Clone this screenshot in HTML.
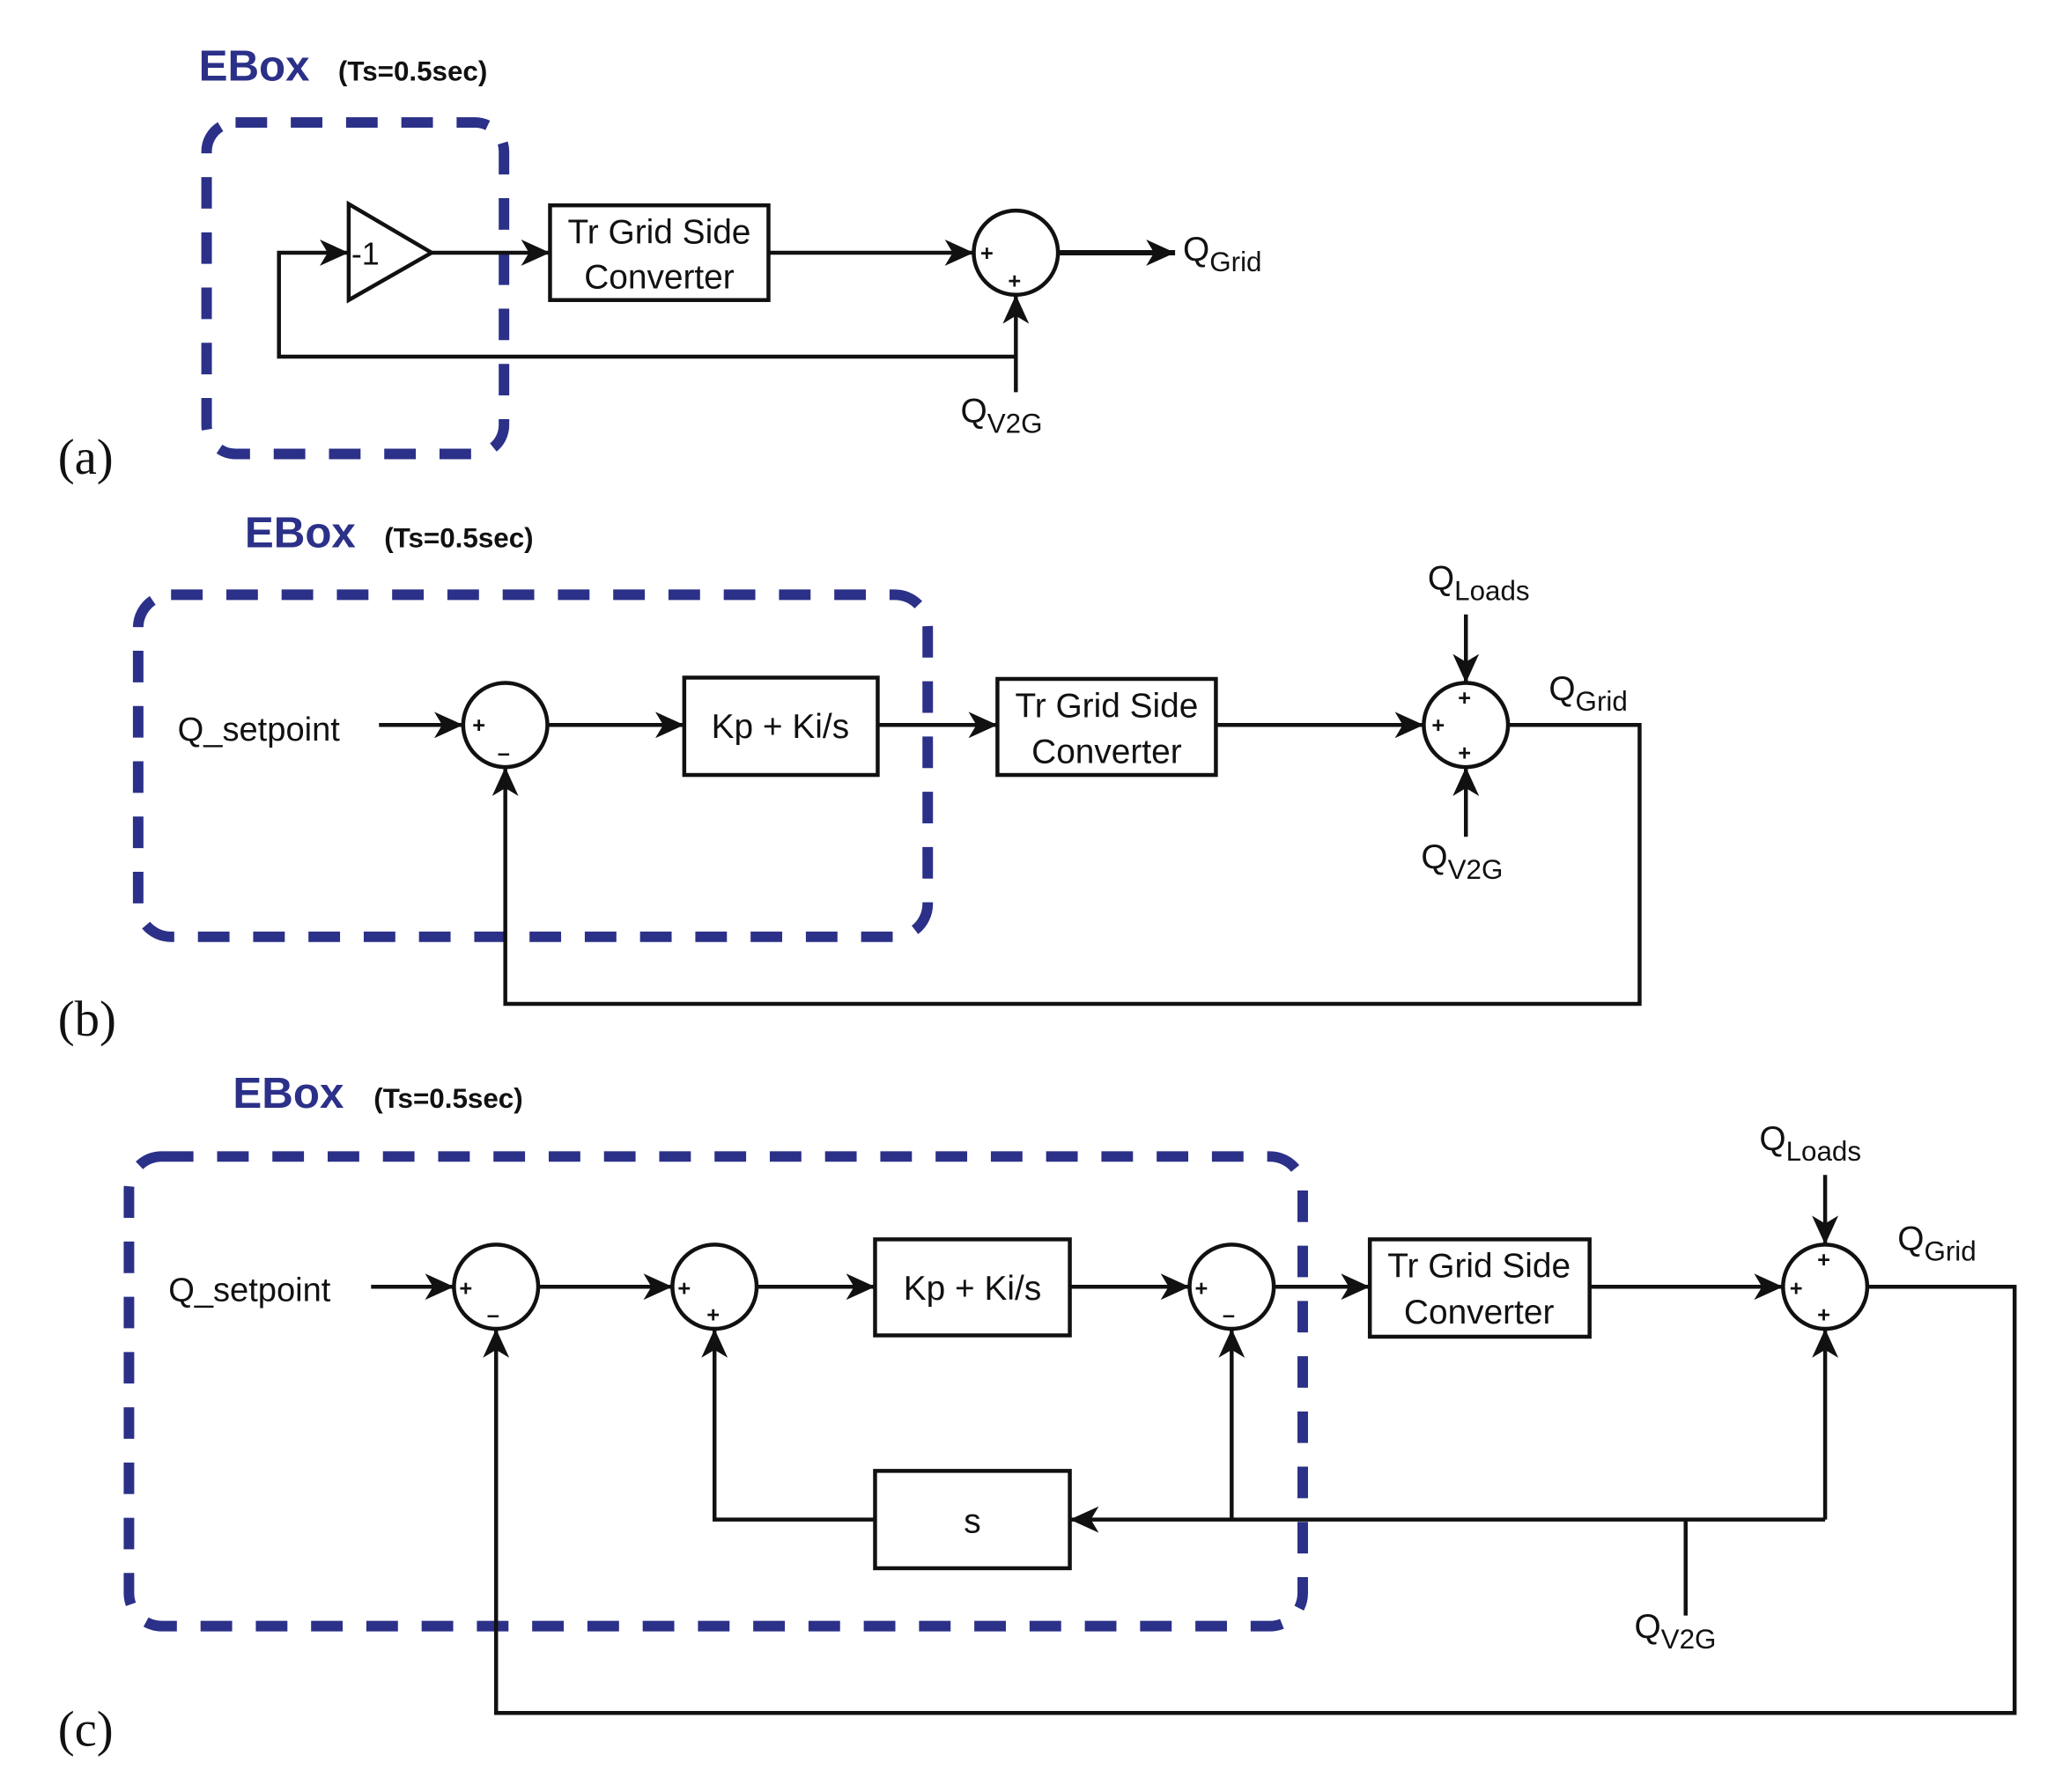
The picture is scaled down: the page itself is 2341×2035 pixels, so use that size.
<!DOCTYPE html>
<html><head><meta charset="utf-8"><style>
html,body{margin:0;padding:0;background:#fff;}
svg{display:block;}
text{font-family:"Liberation Sans",sans-serif;fill:#111;}
.eb{fill:#2b3088;font-weight:bold;font-size:33px;}
.ts{font-weight:bold;font-size:21px;}
.lab{font-size:26px;}
.sub{font-size:21px;}
.pl{font-family:"Liberation Serif",serif;font-size:38px;}
.sg{font-size:17px;font-weight:bold;}
</style></head><body>
<svg width="2341" height="2035" viewBox="0 0 1567 1362" xmlns="http://www.w3.org/2000/svg">
<defs>
<marker id="a" markerUnits="userSpaceOnUse" markerWidth="24" markerHeight="20" refX="22" refY="10" orient="auto">
<path d="M0,0 L22,10 L0,20 L6,10 Z" fill="#111"/>
</marker>
</defs>
<g fill="none" stroke="#2b3088" stroke-width="8" stroke-dasharray="24,18">
<rect x="157" y="93" width="226" height="252" rx="22"/>
<rect x="105" y="452" width="600" height="260" rx="25"/>
<rect x="98" y="879" width="892" height="357" rx="25"/>
</g>
<g stroke="#111" stroke-width="3" fill="none">
<polygon points="265,155 265,228 328,192" fill="#fff"/>
<polyline points="772,271 212,271 212,192 265,192" marker-end="url(#a)"/>
<line x1="328" y1="192" x2="418" y2="192" marker-end="url(#a)"/>
<rect x="418" y="156" width="166" height="72"/>
<line x1="584" y1="192" x2="740" y2="192" marker-end="url(#a)"/>
<circle cx="772" cy="192" r="32"/>
<line x1="804" y1="192" x2="893" y2="192" stroke-width="4" marker-end="url(#a)"/>
<line x1="772" y1="298" x2="772" y2="224" marker-end="url(#a)"/>
<line x1="288" y1="551" x2="352" y2="551" marker-end="url(#a)"/>
<circle cx="384" cy="551" r="32"/>
<line x1="416" y1="551" x2="520" y2="551" marker-end="url(#a)"/>
<rect x="520" y="515" width="147" height="74"/>
<line x1="667" y1="551" x2="758" y2="551" marker-end="url(#a)"/>
<rect x="758" y="516" width="166" height="73"/>
<line x1="924" y1="551" x2="1082" y2="551" marker-end="url(#a)"/>
<circle cx="1114" cy="551" r="32"/>
<line x1="1114" y1="467" x2="1114" y2="519" marker-end="url(#a)"/>
<line x1="1114" y1="636" x2="1114" y2="583" marker-end="url(#a)"/>
<polyline points="1146,551 1246,551 1246,763 384,763 384,583" marker-end="url(#a)"/>
<line x1="282" y1="978" x2="345" y2="978" marker-end="url(#a)"/>
<circle cx="377" cy="978" r="32"/>
<line x1="409" y1="978" x2="511" y2="978" marker-end="url(#a)"/>
<circle cx="543" cy="978" r="32"/>
<line x1="575" y1="978" x2="665" y2="978" marker-end="url(#a)"/>
<rect x="665" y="942" width="148" height="73"/>
<line x1="813" y1="978" x2="904" y2="978" marker-end="url(#a)"/>
<circle cx="936" cy="978" r="32"/>
<line x1="968" y1="978" x2="1041" y2="978" marker-end="url(#a)"/>
<rect x="1041" y="942" width="167" height="74"/>
<line x1="1208" y1="978" x2="1355" y2="978" marker-end="url(#a)"/>
<circle cx="1387" cy="978" r="32"/>
<line x1="1387" y1="893" x2="1387" y2="946" marker-end="url(#a)"/>
<polyline points="1419,978 1531,978 1531,1302 377,1302 377,1010" marker-end="url(#a)"/>
<polyline points="1387,1155 813,1155" marker-end="url(#a)"/>
<rect x="665" y="1118" width="148" height="74"/>
<polyline points="665,1155 543,1155 543,1010" marker-end="url(#a)"/>
<line x1="936" y1="1155" x2="936" y2="1010" marker-end="url(#a)"/>
<line x1="1387" y1="1155" x2="1387" y2="1010" marker-end="url(#a)"/>
<line x1="1281" y1="1228" x2="1281" y2="1155"/>
</g>
<text class="eb" x="151" y="61">EBox</text>
<text class="ts" x="257" y="61">(Ts=0.5sec)</text>
<text class="lab" x="267" y="201" style="font-size:24px">-1</text>
<text class="lab" x="501" y="185" text-anchor="middle">Tr Grid Side</text>
<text class="lab" x="501" y="219" text-anchor="middle">Converter</text>
<text class="sg" x="745" y="198">+</text>
<text class="sg" x="766" y="219">+</text>
<text class="lab" x="899" y="198">Q<tspan class="sub" dy="8">Grid</tspan></text>
<text class="lab" x="730" y="321">Q<tspan class="sub" dy="8">V2G</tspan></text>
<text class="pl" x="44" y="360">(a)</text>
<text class="eb" x="186" y="416">EBox</text>
<text class="ts" x="292" y="416">(Ts=0.5sec)</text>
<text class="lab" x="135" y="563" style="font-size:25.5px">Q_setpoint</text>
<text class="sg" x="359" y="557">+</text>
<text class="sg" x="378" y="578">–</text>
<text class="lab" x="593" y="561" text-anchor="middle">Kp + Ki/s</text>
<text class="lab" x="841" y="545" text-anchor="middle">Tr Grid Side</text>
<text class="lab" x="841" y="580" text-anchor="middle">Converter</text>
<text class="sg" x="1108" y="536">+</text>
<text class="sg" x="1088" y="557">+</text>
<text class="sg" x="1108" y="578">+</text>
<text class="lab" x="1085" y="448">Q<tspan class="sub" dy="8">Loads</tspan></text>
<text class="lab" x="1177" y="532">Q<tspan class="sub" dy="8">Grid</tspan></text>
<text class="lab" x="1080" y="660">Q<tspan class="sub" dy="8">V2G</tspan></text>
<text class="pl" x="44" y="787">(b)</text>
<text class="eb" x="177" y="842">EBox</text>
<text class="ts" x="284" y="842">(Ts=0.5sec)</text>
<text class="lab" x="128" y="989" style="font-size:25.5px">Q_setpoint</text>
<text class="sg" x="349" y="985">+</text>
<text class="sg" x="370" y="1005">–</text>
<text class="sg" x="515" y="985">+</text>
<text class="sg" x="537" y="1005">+</text>
<text class="lab" x="739" y="988" text-anchor="middle">Kp + Ki/s</text>
<text class="sg" x="908" y="985">+</text>
<text class="sg" x="929" y="1005">–</text>
<text class="lab" x="1124" y="971" text-anchor="middle">Tr Grid Side</text>
<text class="lab" x="1124" y="1006" text-anchor="middle">Converter</text>
<text class="sg" x="1381" y="963">+</text>
<text class="sg" x="1360" y="985">+</text>
<text class="sg" x="1381" y="1005">+</text>
<text class="lab" x="739" y="1165" text-anchor="middle">s</text>
<text class="lab" x="1337" y="874">Q<tspan class="sub" dy="8">Loads</tspan></text>
<text class="lab" x="1442" y="950">Q<tspan class="sub" dy="8">Grid</tspan></text>
<text class="lab" x="1242" y="1245">Q<tspan class="sub" dy="8">V2G</tspan></text>
<text class="pl" x="44" y="1327">(c)</text>
</svg>
</body></html>
